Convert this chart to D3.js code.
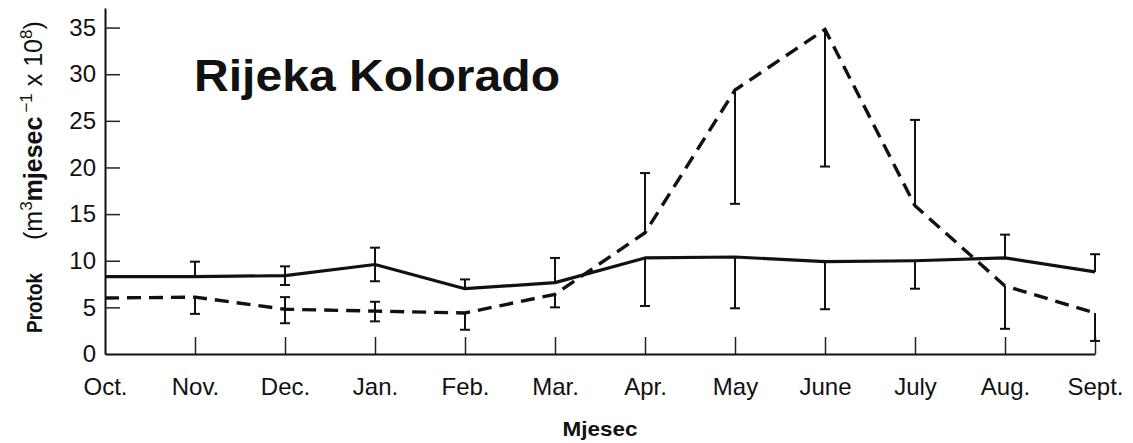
<!DOCTYPE html>
<html>
<head>
<meta charset="utf-8">
<script src="https://cdn.jsdelivr.net/npm/d3@7"></script>
<style>
  html, body { margin: 0; padding: 0; background: #fff; }
  svg { display: block; }
  text { font-family: "Liberation Sans", Arial, Helvetica, sans-serif; fill: #111; }
</style>
</head>
<body>
<svg id="chart" width="1133" height="443"></svg>
<script>
// ---- data ----
const months = ["Oct.", "Nov.", "Dec.", "Jan.", "Feb.", "Mar.", "Apr.", "May", "June", "July", "Aug.", "Sept."];
const yTicks = [0, 5, 10, 15, 20, 25, 30, 35];

// solid line
const solidValues = [8.3, 8.3, 8.4, 9.6, 7.0, 7.65, 10.3, 10.4, 9.9, 10.0, 10.3, 8.8];
const solidErrHigh = [null, 9.9, 9.4, 11.4, 8.0, 10.3, null, null, null, null, 12.8, 10.7];
const solidErrLow  = [null, null, 7.4, 7.8, null, null, 5.15, 4.9, 4.8, 7.0, null, null];

// dashed line
const dashedValues = [6.0, 6.1, 4.8, 4.6, 4.4, 6.4, 13.0, 28.3, 34.8, 15.9, 7.3, 4.4];
const dashedErrHigh = [null, null, 6.1, 5.6, null, null, 19.4, null, null, 25.1, null, null];
const dashedErrLow  = [null, 4.3, 3.3, 3.5, 2.6, 5.0, null, 16.1, 20.1, null, 2.7, 1.4];

const titleText = "Rijeka Kolorado";
const xTitle = "Mjesec";

// ---- layout ----
const svg = d3.select("#chart");
const x = d3.scalePoint().domain(months).range([105, 1095]);
const y = d3.scaleLinear().domain([0, 37.1]).range([354, 8]);

// y axis
const yAxis = svg.append("g")
  .attr("transform", "translate(105,0)")
  .call(d3.axisLeft(y).tickValues(yTicks).tickSize(-15).tickSizeOuter(0).tickPadding(9));
yAxis.select(".domain").attr("stroke", "#111").attr("stroke-width", 2);
yAxis.selectAll(".tick line").attr("stroke", "#222").attr("stroke-width", 1.5)
  .filter(d => d === 0).remove();
yAxis.selectAll(".tick text").attr("font-size", 24).attr("fill", "#111")
  .attr("font-family", "'Liberation Sans', Arial, sans-serif");

// x axis
const xAxis = svg.append("g")
  .attr("transform", "translate(0,354)")
  .call(d3.axisBottom(x).tickSize(-17).tickSizeOuter(0).tickPadding(24));
xAxis.select(".domain").attr("stroke", "#111").attr("stroke-width", 2);
xAxis.selectAll(".tick line").attr("stroke", "#222").attr("stroke-width", 1.5)
  .filter(d => d === months[0]).remove();
xAxis.selectAll(".tick text").attr("font-size", 24).attr("fill", "#111")
  .attr("font-family", "'Liberation Sans', Arial, sans-serif");

// error bars
function drawErrors(values, hi, lo) {
  const g = svg.append("g").attr("stroke", "#111").attr("stroke-width", 2).attr("fill", "none");
  months.forEach((m, i) => {
    const cx = x(m);
    const top = hi[i] != null ? hi[i] : values[i];
    const bot = lo[i] != null ? lo[i] : values[i];
    if (hi[i] == null && lo[i] == null) return;
    g.append("line").attr("x1", cx).attr("x2", cx).attr("y1", y(top)).attr("y2", y(bot));
    if (hi[i] != null) g.append("line").attr("x1", cx - 5).attr("x2", cx + 5).attr("y1", y(hi[i])).attr("y2", y(hi[i]));
    if (lo[i] != null) g.append("line").attr("x1", cx - 5).attr("x2", cx + 5).attr("y1", y(lo[i])).attr("y2", y(lo[i]));
  });
}
drawErrors(solidValues, solidErrHigh, solidErrLow);
drawErrors(dashedValues, dashedErrHigh, dashedErrLow);

// lines
const line = d3.line().x((d, i) => x(months[i])).y(d => y(d));
svg.append("path").datum(solidValues).attr("d", line)
  .attr("fill", "none").attr("stroke", "#111").attr("stroke-width", 3.2).attr("stroke-linejoin", "round");
svg.append("path").datum(dashedValues).attr("d", line)
  .attr("fill", "none").attr("stroke", "#111").attr("stroke-width", 3.4)
  .attr("stroke-dasharray", "14,8");

// title
svg.append("text").attr("x", 194).attr("y", 91)
  .attr("font-size", 44).attr("font-weight", "bold").attr("fill", "#000")
  .attr("textLength", 366).attr("lengthAdjust", "spacingAndGlyphs")
  .text(titleText);

// x title
svg.append("text").attr("x", 600).attr("y", 436).attr("text-anchor", "middle")
  .attr("font-size", 21).attr("font-weight", "bold")
  .attr("textLength", 75).attr("lengthAdjust", "spacingAndGlyphs")
  .text(xTitle);

// y title: "Protok" part
svg.append("text")
  .attr("transform", "translate(42,333) rotate(-90)")
  .attr("font-size", 22).attr("font-weight", "bold")
  .attr("textLength", 60).attr("lengthAdjust", "spacingAndGlyphs")
  .text("Protok");

// y title: units part
const yt = svg.append("text")
  .attr("transform", "translate(42,240) rotate(-90)")
  .attr("font-size", 25).attr("fill", "#111");
yt.append("tspan").text("(m");
yt.append("tspan").attr("font-size", 17).attr("dy", -10).text("3");
yt.append("tspan").attr("font-weight", "bold").attr("dy", 10).text("mjesec");
yt.append("tspan").attr("font-size", 17).attr("dy", -10).attr("dx", 4).text("\u22121");
yt.append("tspan").attr("dy", 10).text(" x 10");
yt.append("tspan").attr("font-size", 17).attr("dy", -10).text("8");
yt.append("tspan").attr("dy", 10).text(")");
</script>
</body>
</html>
